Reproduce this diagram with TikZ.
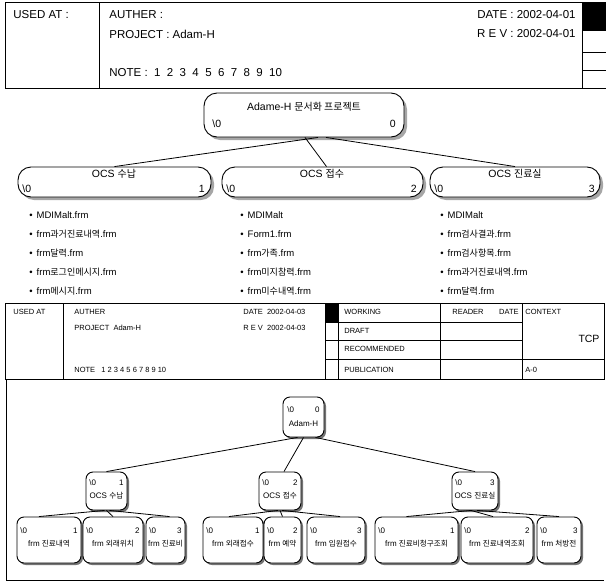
\documentclass[tikz,border=0pt]{standalone}
\usepackage{fontspec}
\setmainfont{Liberation Sans}
\newfontfamily\krfont[Scale=0.95]{Noto Sans CJK KR}
\newcommand{\K}[1]{{\krfont #1}}
\usetikzlibrary{shadows}
\begin{document}
\begin{tikzpicture}[x=1pt,y=-1pt,line width=0.8pt,
  tbox/.style={draw,line width=0.9pt,rounded corners=13pt,fill=white,inner sep=0pt,
    drop shadow={shadow xshift=3pt,shadow yshift=-3pt,fill=black!35,opacity=1}},
  lbox/.style={draw,line width=0.9pt,rounded corners=7pt,fill=white,inner sep=0pt,
    drop shadow={shadow xshift=2pt,shadow yshift=-2pt,fill=black!55,opacity=1}},
  hd/.style={inner sep=0pt,font=\fontsize{11.5}{13}\selectfont},
  tt/.style={inner sep=0pt,font=\fontsize{10.5}{12}\selectfont},
  li/.style={inner sep=0pt,anchor=west,font=\fontsize{9.5}{11}\selectfont},
  md/.style={inner sep=0pt,anchor=west,font=\fontsize{7.5}{9}\selectfont},
  lt/.style={inner sep=0pt,font=\fontsize{8}{9}\selectfont},
  conn/.style={draw,line width=0.8pt}]
\useasboundingbox (0,0) rectangle (606,584);

% ---------- top header ----------
\draw (606,2) -- (5,2) -- (5,88) -- (606,88);
\draw (99,2) -- (99,88) (582,2) -- (582,88);
\fill (582,2) rectangle (606,31);
\draw (582,52) -- (606,52) (582,70) -- (606,70);
\node[hd,anchor=west] (hua) at (13,15) {USED AT :};
\node[hd,anchor=west] (hau) at (109,15) {AUTHER :};
\node[hd,anchor=west] (hpr) at (109,34) {PROJECT : Adam-H};
\node[hd,anchor=west] (hnt) at (109,73) {NOTE : \ 1 \ 2 \ 3 \ 4 \ 5 \ 6 \ 7 \ 8 \ 9 \ 10};
\node[hd,anchor=east] (hdt) at (576,15) {DATE : 2002-04-01};
\node[hd,anchor=east] (hrv) at (576,34) {R E V : 2002-04-01};

% ---------- top tree ----------
\node[tbox,minimum width=200pt,minimum height=44pt] (r) at (304,115) {};
\node[tt] (rt) at (304,107) {Adame-H \K{문서화 프로젝트}};
\node[tt,anchor=west] (rl) at (212,124) {\textbackslash 0};
\node[tt,anchor=east] (rr) at (396,124) {0};

\node[tbox,minimum width=193pt,minimum height=30pt] (c1) at (114.5,182) {};
\node[tt] (c1t) at (114,174) {OCS \K{수납}};
\node[tt,anchor=west] (c1l) at (22,189) {\textbackslash 0};
\node[tt,anchor=east] (c1r) at (205,189) {1};

\node[tbox,minimum width=201pt,minimum height=30pt] (c2) at (322.5,182) {};
\node[tt] (c2t) at (322,174) {OCS \K{접수}};
\node[tt,anchor=west] (c2l) at (226,189) {\textbackslash 0};
\node[tt,anchor=east] (c2r) at (417,189) {2};

\node[tbox,minimum width=170pt,minimum height=30pt] (c3) at (515,182) {};
\node[tt] (c3t) at (515,174) {OCS \K{진료실}};
\node[tt,anchor=west] (c3l) at (434,189) {\textbackslash 0};
\node[tt,anchor=east] (c3r) at (595,189) {3};

\draw[conn] ([xshift=14pt]r.south) -- (c1.north);
\draw[conn] ([xshift=1pt]r.south) -- ([xshift=4pt]c2.north);
\draw[conn] ([xshift=22pt]r.south) -- (c3.north);

% ---------- lists ----------
\node[li] (a1) at (29,215) {\textbullet\hspace{4pt}MDIMalt.frm};
\node[li] (a2) at (29,234) {\textbullet\hspace{4pt}frm\K{과거진료내역}.frm};
\node[li] (a3) at (29,253) {\textbullet\hspace{4pt}frm\K{달력}.frm};
\node[li] (a4) at (29,272) {\textbullet\hspace{4pt}frm\K{로그인메시지}.frm};
\node[li] (a5) at (29,291) {\textbullet\hspace{4pt}frm\K{메시지}.frm};

\node[li] (b1) at (240,215) {\textbullet\hspace{4pt}MDIMalt};
\node[li] (b2) at (240,234) {\textbullet\hspace{4pt}Form1.frm};
\node[li] (b3) at (240,253) {\textbullet\hspace{4pt}frm\K{가족}.frm};
\node[li] (b4) at (240,272) {\textbullet\hspace{4pt}frm\K{미지참력}.frm};
\node[li] (b5) at (240,291) {\textbullet\hspace{4pt}frm\K{미수내역}.frm};

\node[li] (d1) at (440,215) {\textbullet\hspace{4pt}MDIMalt};
\node[li] (d2) at (440,234) {\textbullet\hspace{4pt}frm\K{검사결과}.frm};
\node[li] (d3) at (440,253) {\textbullet\hspace{4pt}frm\K{검사항목}.frm};
\node[li] (d4) at (440,272) {\textbullet\hspace{4pt}frm\K{과거진료내역}.frm};
\node[li] (d5) at (440,291) {\textbullet\hspace{4pt}frm\K{달력}.frm};

% ---------- middle header ----------
\draw (5,303) rectangle (604,379);
\draw (63,303) -- (63,379);
\draw (325,303) -- (325,379) (338,303) -- (338,379) (440,303) -- (440,379) (522,303) -- (522,379);
\fill (325,303) rectangle (338,322);
\draw (325,322) -- (522,322) (325,340) -- (522,340) (325,359) -- (604,359);
\node[md] (mua) at (13,312) {USED AT};
\node[md] (mau) at (74,312) {AUTHER};
\node[md] (mpr) at (74,328) {PROJECT \ Adam-H};
\node[md] (mnt) at (74,370) {NOTE \ \ 1 2 3 4 5 6 7 8 9 10};
\node[md] (mdt) at (243,312) {DATE \ 2002-04-03};
\node[md] (mrv) at (243,328) {R E V \ 2002-04-03};
\node[md] (mwk) at (344,312) {WORKING};
\node[md] (mdr) at (344,331) {DRAFT};
\node[md] (mrc) at (344,349) {RECOMMENDED};
\node[md] (mpb) at (344,370) {PUBLICATION};
\node[md] (mrd) at (452,312) {READER};
\node[md,anchor=east] (mrdd) at (519,312) {DATE};
\node[md] (mcx) at (525,312) {CONTEXT};
\node[inner sep=0pt,font=\fontsize{10.5}{12}\selectfont] (mtcp) at (589,339) {TCP};
\node[md] (ma0) at (525,370) {A-0};

% ---------- lower section ----------
\draw (6,379) -- (6,580) -- (604,580);

\node[lbox,minimum width=41pt,minimum height=40pt] (q) at (303.5,417) {};
\node[lt,anchor=west] (ql) at (287,410) {\textbackslash 0};
\node[lt,anchor=east] (qr) at (320,410) {0};
\node[lt] (qt) at (303.5,424) {Adam-H};

\node[lbox,minimum width=41pt,minimum height=38pt] (n1) at (106.5,491) {};
\node[lt,anchor=west] (n1l) at (89,483) {\textbackslash 0};
\node[lt,anchor=east] (n1r) at (124,483) {1};
\node[lt] (n1t) at (106.5,496) {OCS \K{수납}};

\node[lbox,minimum width=42pt,minimum height=38pt] (n2) at (280,491) {};
\node[lt,anchor=west] (n2l) at (262,483) {\textbackslash 0};
\node[lt,anchor=east] (n2r) at (298,483) {2};
\node[lt] (n2t) at (280,496) {OCS \K{접수}};

\node[lbox,minimum width=46pt,minimum height=38pt] (n3) at (475,491) {};
\node[lt,anchor=west] (n3l) at (455,483) {\textbackslash 0};
\node[lt,anchor=east] (n3r) at (495,483) {3};
\node[lt] (n3t) at (475,496) {OCS \K{진료실}};

\draw[conn] ([xshift=-6pt]q.south) -- (n1.north);
\draw[conn] (q.south) -- ([xshift=4pt]n2.north);
\draw[conn] ([xshift=12pt]q.south) -- (n3.north);

% leaves
\node[lbox,minimum width=64pt,minimum height=46pt] (l11) at (49,540) {};
\node[lt,anchor=west] (l11l) at (20,531) {\textbackslash 0};
\node[lt,anchor=east] (l11r) at (78,531) {1};
\node[lt] (l11t) at (49,544) {frm \K{진료내역}};

\node[lbox,minimum width=60pt,minimum height=46pt] (l12) at (113,540) {};
\node[lt,anchor=west] (l12l) at (86,531) {\textbackslash 0};
\node[lt,anchor=east] (l12r) at (140,531) {2};
\node[lt] (l12t) at (113,544) {frm \K{외래위치}};

\node[lbox,minimum width=39pt,minimum height=46pt] (l13) at (165.5,540) {};
\node[lt,anchor=west] (l13l) at (149,531) {\textbackslash 0};
\node[lt,anchor=east] (l13r) at (182,531) {3};
\node[lt] (l13t) at (165.5,544) {frm \K{진료비}};

\node[lbox,minimum width=60pt,minimum height=46pt] (l21) at (233,540) {};
\node[lt,anchor=west] (l21l) at (206,531) {\textbackslash 0};
\node[lt,anchor=east] (l21r) at (260,531) {1};
\node[lt] (l21t) at (233,544) {frm \K{외래접수}};

\node[lbox,minimum width=37pt,minimum height=46pt] (l22) at (282.5,540) {};
\node[lt,anchor=west] (l22l) at (267,531) {\textbackslash 0};
\node[lt,anchor=east] (l22r) at (298,531) {2};
\node[lt] (l22t) at (282.5,544) {frm \K{예약}};

\node[lbox,minimum width=58pt,minimum height=46pt] (l23) at (336,540) {};
\node[lt,anchor=west] (l23l) at (310,531) {\textbackslash 0};
\node[lt,anchor=east] (l23r) at (362,531) {3};
\node[lt] (l23t) at (336,544) {frm \K{입원접수}};

\node[lbox,minimum width=83pt,minimum height=46pt] (l31) at (416.5,540) {};
\node[lt,anchor=west] (l31l) at (378,531) {\textbackslash 0};
\node[lt,anchor=east] (l31r) at (455,531) {1};
\node[lt] (l31t) at (416.5,544) {frm \K{진료비청구조회}};

\node[lbox,minimum width=72pt,minimum height=46pt] (l32) at (497,540) {};
\node[lt,anchor=west] (l32l) at (464,531) {\textbackslash 0};
\node[lt,anchor=east] (l32r) at (530,531) {2};
\node[lt] (l32t) at (497,544) {frm \K{진료내역조회}};

\node[lbox,minimum width=44pt,minimum height=46pt] (l33) at (559,540) {};
\node[lt,anchor=west] (l33l) at (540,531) {\textbackslash 0};
\node[lt,anchor=east] (l33r) at (578,531) {3};
\node[lt] (l33t) at (559,544) {frm \K{처방전}};

\draw[conn] ([xshift=-2pt]n1.south) -- ([xshift=-10pt]l11.north);
\draw[conn] (n1.south) -- (l12.north);
\draw[conn] ([xshift=3pt]n1.south) -- ([xshift=4pt]l13.north);
\draw[conn] ([xshift=-2pt]n2.south) -- ([xshift=-4pt]l21.north);
\draw[conn] (n2.south) -- (l22.north);
\draw[conn] ([xshift=2pt]n2.south) -- ([xshift=4pt]l23.north);
\draw[conn] ([xshift=-4pt]n3.south) -- ([xshift=-10pt]l31.north);
\draw[conn] ([xshift=-4pt]n3.south) -- ([xshift=-4pt]l32.north);
\draw[conn] ([xshift=2pt]n3.south) -- (l33.north);
\end{tikzpicture}
\end{document}
